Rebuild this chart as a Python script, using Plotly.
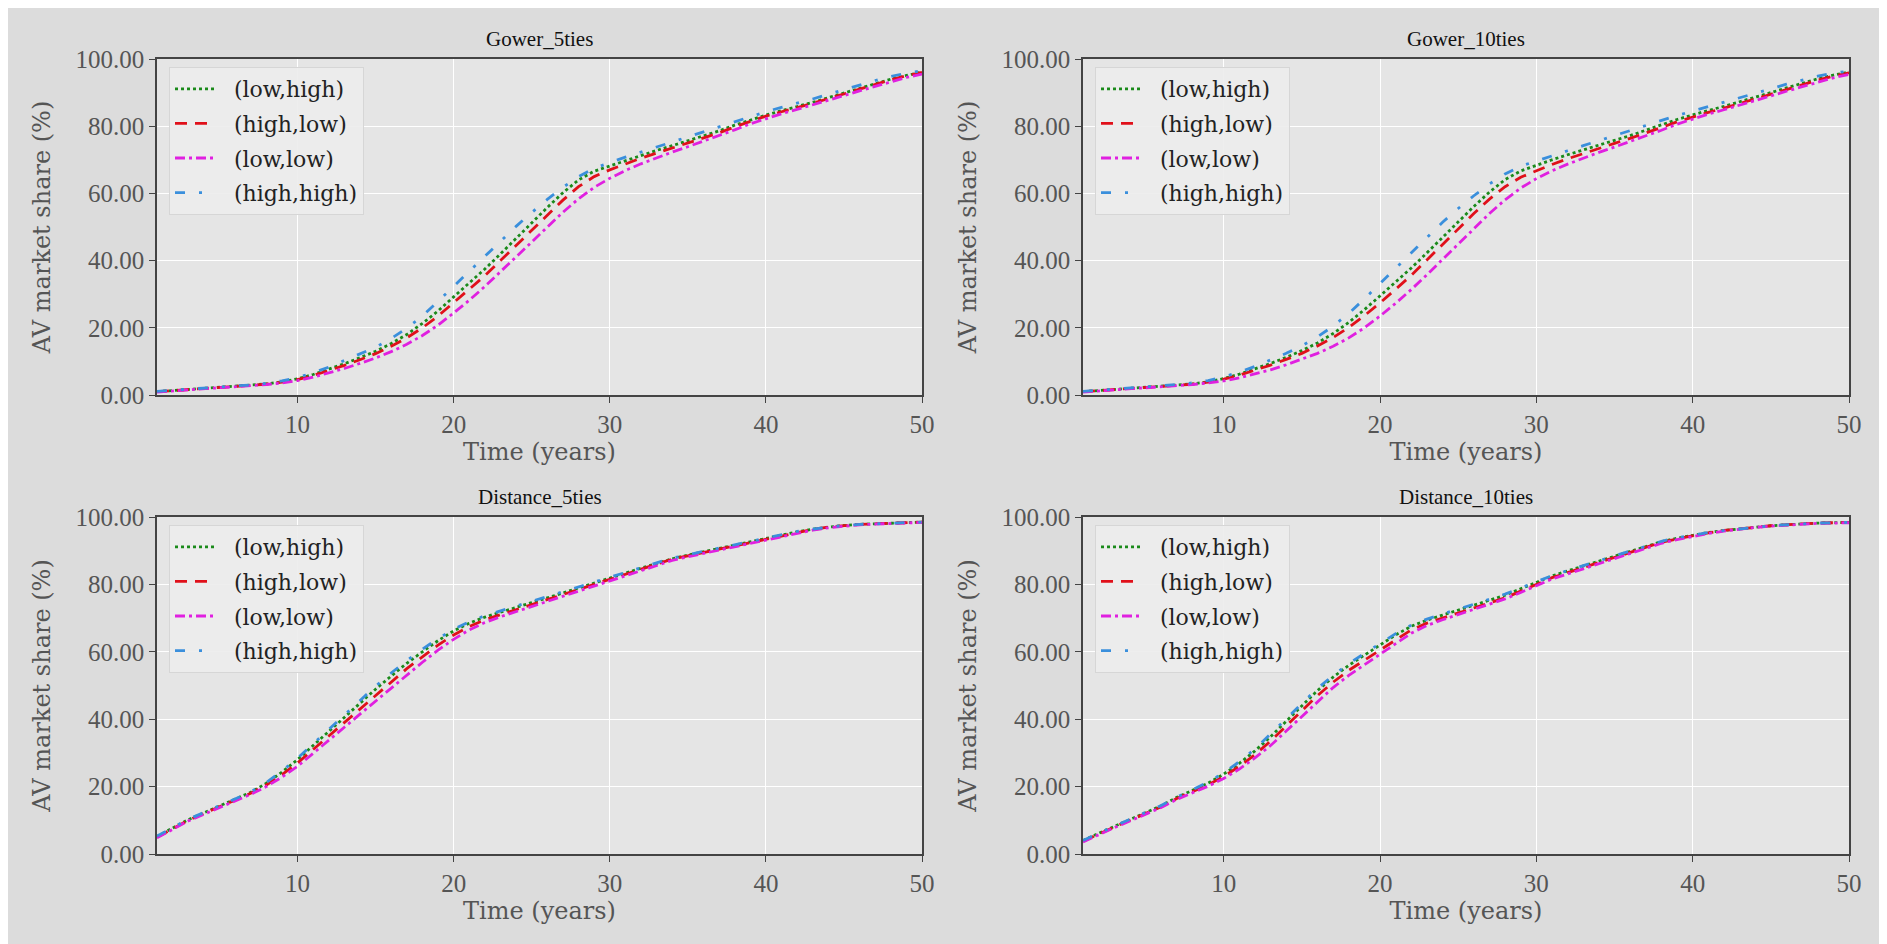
import plotly.graph_objects as go

years = list(range(1, 51))
panel_titles = ["Gower_5ties", "Gower_10ties", "Distance_5ties", "Distance_10ties"]
series_names = ["(low,high)", "(high,low)", "(low,low)", "(high,high)"]
y_ticks = [0, 20, 40, 60, 80, 100]
x_ticks = [10, 20, 30, 40, 50]

# Gower_5ties
g5_low_high = [1.0,1.3,1.6,1.9,2.2,2.5,2.9,3.3,3.9,4.8,6.1,7.6,9.3,11.1,13.0,15.3,18.0,21.3,25.0,29.2,33.3,37.5,42.0,46.7,51.3,55.8,60.2,64.0,66.6,68.2,69.8,71.3,72.8,74.2,75.6,77.1,78.6,80.3,81.9,83.3,84.6,85.8,87.1,88.5,89.9,91.3,92.7,94.0,95.1,96.1]
g5_high_low = [1.0,1.3,1.6,1.9,2.2,2.5,2.8,3.2,3.8,4.6,5.8,7.2,8.8,10.5,12.3,14.5,17.0,20.0,23.5,27.5,31.5,35.5,40.0,44.5,49.0,53.5,58.0,62.0,65.0,67.0,68.8,70.5,72.0,73.5,75.0,76.5,78.0,79.8,81.5,83.0,84.3,85.5,86.8,88.2,89.6,91.0,92.5,93.8,95.0,96.0]
g5_low_low = [0.9,1.2,1.5,1.8,2.1,2.4,2.7,3.1,3.6,4.3,5.3,6.5,7.9,9.4,11.0,12.9,15.1,17.7,20.8,24.4,28.2,32.3,36.6,41.0,45.5,50.0,54.4,58.4,61.8,64.5,66.8,68.8,70.6,72.3,73.9,75.5,77.1,78.9,80.7,82.3,83.7,85.0,86.3,87.7,89.1,90.5,91.9,93.3,94.5,95.5]
g5_high_high = [1.1,1.4,1.7,2.0,2.3,2.6,3.0,3.5,4.2,5.2,6.6,8.3,10.2,12.1,14.2,16.8,19.9,23.5,27.8,32.3,36.8,41.3,46.0,50.2,54.3,58.2,61.8,65.0,67.5,69.2,70.8,72.3,73.8,75.3,76.8,78.3,79.8,81.5,83.0,84.3,85.6,86.8,88.1,89.5,90.9,92.3,93.6,94.8,95.8,96.5]

# Gower_10ties
g10_low_high = [1.0,1.3,1.6,1.9,2.2,2.5,2.9,3.3,3.9,4.9,6.2,7.7,9.4,11.2,13.2,15.5,18.3,21.6,25.4,29.5,33.6,37.8,42.3,47.0,51.6,56.1,60.4,64.1,66.7,68.4,70.0,71.5,73.0,74.4,75.8,77.2,78.7,80.4,82.0,83.4,84.7,85.9,87.2,88.6,90.0,91.4,92.8,94.1,95.2,96.1]
g10_high_low = [1.0,1.3,1.6,1.9,2.2,2.5,2.8,3.2,3.8,4.7,5.9,7.3,8.9,10.6,12.4,14.6,17.1,20.1,23.6,27.4,31.4,35.6,40.2,44.9,49.5,54.0,58.3,62.0,64.8,66.8,68.6,70.3,71.9,73.4,74.9,76.4,77.9,79.6,81.3,82.8,84.1,85.4,86.7,88.1,89.5,90.9,92.4,93.7,94.9,95.9]
g10_low_low = [0.9,1.2,1.5,1.8,2.1,2.4,2.7,3.1,3.6,4.2,5.1,6.2,7.5,9.0,10.6,12.4,14.5,17.0,20.0,23.5,27.3,31.4,35.8,40.3,44.9,49.5,54.0,58.1,61.6,64.4,66.7,68.7,70.5,72.2,73.8,75.4,77.0,78.8,80.6,82.2,83.6,84.9,86.2,87.6,89.0,90.4,91.8,93.2,94.4,95.4]
g10_high_high = [1.1,1.4,1.7,2.0,2.3,2.7,3.1,3.6,4.3,5.4,6.8,8.5,10.4,12.4,14.6,17.3,20.5,24.3,28.6,33.2,37.8,42.4,47.1,51.4,55.5,59.3,62.8,65.8,68.1,69.7,71.2,72.7,74.2,75.7,77.2,78.7,80.2,81.8,83.2,84.5,85.8,87.0,88.3,89.7,91.1,92.5,93.8,94.9,95.8,96.4]

# Distance_5ties
d5_low_high = [5.2,7.7,10.2,12.2,14.2,16.2,18.3,21.0,24.3,28.0,32.2,36.4,40.6,44.8,48.9,52.8,56.6,60.0,63.3,66.2,68.5,70.3,71.8,73.2,74.6,76.0,77.5,79.0,80.5,82.0,83.4,84.8,86.2,87.6,88.7,89.7,90.7,91.7,92.7,93.7,94.7,95.6,96.4,97.0,97.5,97.8,98.0,98.2,98.4,98.5]
d5_high_low = [5.0,7.5,10.0,12.0,14.0,16.0,18.0,20.5,23.5,27.0,31.0,35.0,39.0,43.0,47.0,51.0,55.0,58.5,62.0,65.0,67.5,69.5,71.0,72.5,74.0,75.5,77.0,78.5,80.0,81.5,83.0,84.5,86.0,87.5,88.5,89.5,90.5,91.5,92.5,93.5,94.5,95.5,96.3,97.0,97.5,97.8,98.0,98.2,98.4,98.5]
d5_low_low = [4.8,7.3,9.8,11.8,13.8,15.8,17.7,20.0,22.8,26.0,29.8,33.7,37.6,41.5,45.4,49.3,53.2,56.9,60.5,63.7,66.5,68.7,70.4,71.9,73.4,74.9,76.4,77.9,79.5,81.0,82.6,84.1,85.6,87.1,88.2,89.2,90.3,91.3,92.3,93.3,94.3,95.3,96.1,96.8,97.3,97.7,97.9,98.1,98.3,98.4]
d5_high_high = [5.3,7.8,10.3,12.3,14.3,16.3,18.4,21.2,24.6,28.4,32.7,37.0,41.3,45.6,49.8,53.7,57.4,60.8,63.9,66.7,68.9,70.7,72.2,73.6,75.0,76.4,77.8,79.3,80.8,82.2,83.6,85.0,86.4,87.8,88.8,89.8,90.8,91.8,92.8,93.8,94.8,95.7,96.4,97.0,97.5,97.8,98.0,98.2,98.4,98.5]

# Distance_10ties
d10_low_high = [4.0,6.2,8.2,10.2,12.2,14.3,16.8,18.9,21.0,23.7,26.9,30.6,34.8,39.4,44.0,48.5,52.5,56.0,59.0,62.0,65.0,67.6,69.4,70.9,72.3,73.8,75.3,76.8,78.7,80.6,82.5,84.0,85.5,87.0,88.4,89.8,91.2,92.7,93.7,94.6,95.4,96.0,96.5,97.0,97.4,97.7,98.0,98.2,98.3,98.4]
d10_high_low = [3.8,6.0,8.0,10.0,12.0,14.0,16.5,18.5,20.5,23.0,26.0,29.5,33.5,38.0,42.5,47.0,51.0,54.5,57.5,60.5,63.5,66.5,68.5,70.0,71.5,73.0,74.5,76.0,78.0,80.0,82.0,83.5,85.0,86.5,88.0,89.5,91.0,92.5,93.5,94.5,95.3,96.0,96.5,97.0,97.4,97.7,98.0,98.2,98.3,98.4]
d10_low_low = [3.6,5.8,7.8,9.8,11.8,13.8,16.2,18.2,20.1,22.4,25.2,28.5,32.2,36.5,40.9,45.3,49.4,53.0,56.2,59.3,62.4,65.5,67.8,69.5,71.0,72.6,74.1,75.7,77.6,79.6,81.6,83.1,84.6,86.1,87.6,89.1,90.7,92.2,93.3,94.3,95.1,95.8,96.4,96.9,97.3,97.6,97.9,98.1,98.2,98.3]
d10_high_high = [4.0,6.2,8.3,10.3,12.3,14.4,16.9,19.1,21.3,24.1,27.4,31.2,35.5,40.1,44.7,49.1,53.0,56.5,59.5,62.5,65.4,67.9,69.7,71.2,72.6,74.1,75.6,77.1,78.9,80.8,82.6,84.1,85.6,87.1,88.5,89.9,91.3,92.8,93.8,94.7,95.4,96.0,96.5,97.0,97.4,97.7,98.0,98.2,98.3,98.4]

panels = [
    [g5_low_high, g5_high_low, g5_low_low, g5_high_high],
    [g10_low_high, g10_high_low, g10_low_low, g10_high_high],
    [d5_low_high, d5_high_low, d5_low_low, d5_high_high],
    [d10_low_high, d10_high_low, d10_low_low, d10_high_high],
]

W, H = 1887, 944
OFF = 8  # page body margin
colors = ["#1a8a1a", "#e0101a", "#e020e0", "#3a8fdc"]
dashes = ["3px,3px", "12px,8px", "10px,4px,3px,4px", "10px,14px,3px,14px"]

# panel pixel boxes in page coordinates (left, right, top, bottom)
boxes = [(157, 922, 59, 395), (1083, 1849, 59, 395),
         (157, 922, 517, 854), (1083, 1849, 517, 854)]

fig = go.Figure()
serif = "DejaVu Serif"
tickfont = dict(family="Liberation Serif", size=25, color="#555555")
NB = "\u00a0\u00a0"

for i, (vals, box) in enumerate(zip(panels, boxes)):
    xa = "x" if i == 0 else f"x{i+1}"
    ya = "y" if i == 0 else f"y{i+1}"
    lg = "legend" if i == 0 else f"legend{i+1}"
    for j, name in enumerate(series_names):
        fig.add_trace(go.Scatter(
            x=years, y=vals[j], mode="lines", name=NB + name,
            xaxis=xa, yaxis=ya, legend=lg, legendgroup=f"g{i}_{j}",
            line=dict(color=colors[j], width=2.8, dash=dashes[j]),
        ))
    l, r, t, b = [v - OFF for v in box]
    xkey = "xaxis" if i == 0 else f"xaxis{i+1}"
    ykey = "yaxis" if i == 0 else f"yaxis{i+1}"
    fig.update_layout(**{
        xkey: dict(domain=[l / W, r / W], anchor=ya, range=[1, 50], automargin=False,
                   tickvals=x_ticks, ticks="outside", ticklen=6, tickcolor="#444",
                   showline=True, linecolor="#444", linewidth=1.5, mirror=True,
                   showgrid=True, gridcolor="white", gridwidth=1.3, zeroline=False,
                   tickfont=tickfont,
                   title=dict(text="Time (years)", font=dict(family=serif, size=24, color="#555555"), standoff=6)),
        ykey: dict(domain=[1 - b / H, 1 - t / H], anchor=xa, range=[0, 100], automargin=False,
                   tickvals=y_ticks, tickformat=".2f", ticks="outside", ticklen=6, tickcolor="#444",
                   showline=True, linecolor="#444", linewidth=1.5, mirror=True,
                   showgrid=True, gridcolor="white", gridwidth=1.3, zeroline=False,
                   tickfont=tickfont,
                   title=dict(text="AV market share (%)", font=dict(family=serif, size=24, color="#555555"), standoff=18)),
        lg: dict(x=(l + 12) / W, y=1 - (t + 8) / H, xanchor="left", yanchor="top",
                 bgcolor="rgba(236,236,236,0.9)", bordercolor="#d6d6d6", borderwidth=1,
                 font=dict(family=serif, size=22, color="#222"), tracegroupgap=3,
                 traceorder="grouped", itemwidth=40),
    })
    fig.add_annotation(text=panel_titles[i], xref="paper", yref="paper",
                       x=(l + r) / 2 / W, y=1 - (t - 6) / H, xanchor="center", yanchor="bottom",
                       showarrow=False, font=dict(family="Liberation Serif", size=21, color="#111"))

fig.update_layout(width=W, height=H, margin=dict(l=0, r=0, t=0, b=0),
                  paper_bgcolor="#dcdcdc", plot_bgcolor="#e5e5e5", showlegend=True)
fig.write_html("out.html")
